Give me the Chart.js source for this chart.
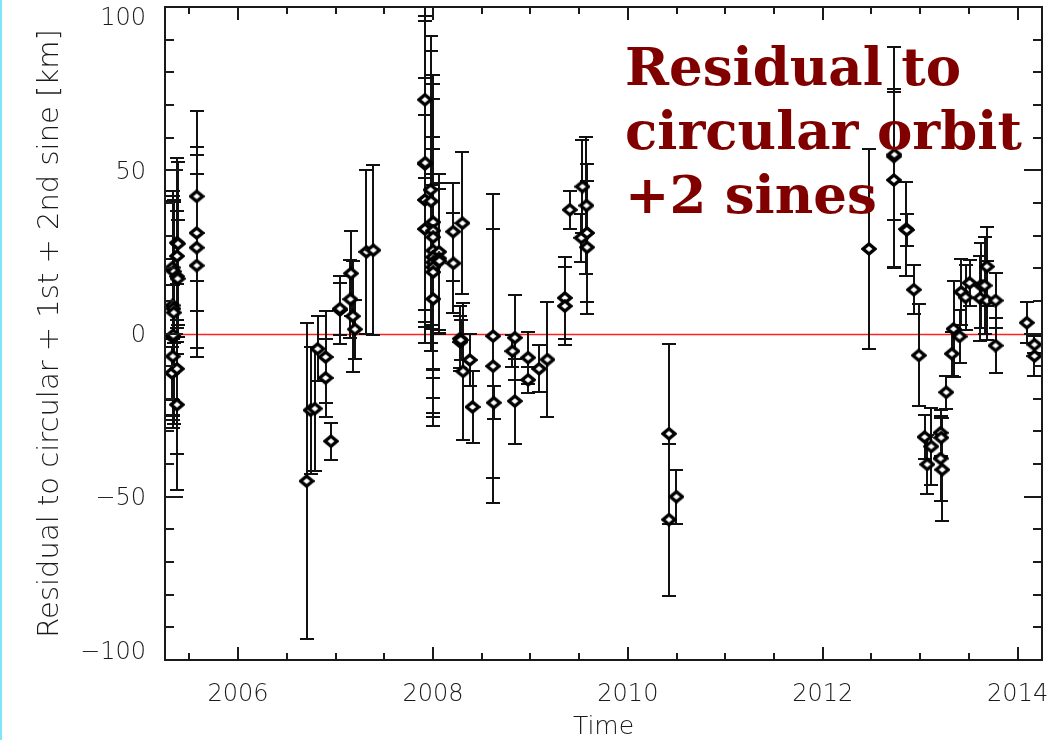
<!DOCTYPE html>
<html>
<head>
<meta charset="utf-8">
<script src="https://cdn.jsdelivr.net/npm/chart.js@4.4.1/dist/chart.umd.min.js"></script>
<style>
  html, body { margin: 0; padding: 0; background: #fff; }
  #wrap { position: relative; width: 1049px; height: 740px; overflow: hidden; background: #fff; }
  #edge { position: absolute; left: 0; top: 0; width: 2px; height: 740px; background: #7ee6f6; }
  canvas { position: absolute; left: 0; top: 0; }
  #note {
    position: absolute; left: 625px; top: 34px;
    font-family: "DejaVu Serif", serif; font-weight: bold;
    font-size: 53px; line-height: 64px; color: #800000; white-space: pre;
  }
</style>
</head>
<body>
<div id="wrap">
  <canvas id="c" width="1049" height="740"></canvas>
  <div id="edge"></div>
  <div id="note">Residual to
circular orbit
+2 sines</div>
</div>
<script>
// Observation epochs (decimal year)
const obsYear = [
  2005.327, 2005.340, 2005.327, 2005.335, 2005.340, 2005.327, 2005.335, 2005.330, 2005.322,
  2005.373, 2005.383, 2005.373, 2005.373, 2005.380, 2005.373, 2005.373,
  2005.575, 2005.575, 2005.575, 2005.575,
  2006.703, 2006.744, 2006.788, 2006.816, 2006.898, 2006.898, 2006.953, 2007.045, 2007.045,
  2007.158, 2007.153, 2007.178, 2007.199, 2007.317, 2007.388,
  2007.917, 2007.917, 2007.920, 2007.917, 2007.917,
  2007.975, 2007.980,
  2008.002, 2008.002, 2008.002, 2008.002, 2008.002, 2008.002, 2008.002, 2008.002, 2008.002,
  2008.063, 2008.063, 2008.066,
  2008.207, 2008.210, 2008.303,
  2008.276, 2008.280, 2008.284, 2008.309, 2008.378, 2008.406,
  2008.617, 2008.617, 2008.624,
  2008.840, 2008.816, 2008.840, 2008.976, 2008.976, 2009.089, 2009.175,
  2009.353, 2009.353, 2009.404, 2009.534, 2009.524, 2009.575, 2009.581, 2009.581,
  2010.422, 2010.422, 2010.498,
  2012.474, 2012.730, 2012.735, 2012.730, 2012.857, 2012.862, 2012.935, 2012.986,
  2013.045, 2013.072, 2013.114, 2013.209, 2013.216, 2013.209, 2013.226, 2013.267,
  2013.325, 2013.342, 2013.404, 2013.421, 2013.465, 2013.506,
  2013.616, 2013.626, 2013.660, 2013.684, 2013.684, 2013.773, 2013.773,
  2014.094, 2014.173, 2014.173
];

// Residual after removing circular orbit and two sine terms [km]
const obsResidual = [
  20.2, 19.0, 8.6, 7.6, 6.4, -1.1, -0.5, -7.0, -12.1,
  27.8, 27.5, 23.7, 17.5, 16.8, -10.8, -21.8,
  42.0, 30.8, 26.3, 20.8,
  -45.2, -23.5, -23.0, -4.7, -7.2, -13.6, -33.0, 7.2, 7.6,
  18.4, 10.5, 5.3, 1.3, 25.0, 25.5,
  71.6, 51.9, 52.3, 40.9, 32.0,
  44.0, 40.5,
  34.1, 31.5, 29.5, 25.4, 23.4, 21.8, 20.3, 18.8, 10.6,
  25.0, 23.0, 22.2,
  31.2, 21.5, 33.8,
  -1.6, -2.6, -2.0, -11.6, -8.1, -22.5,
  -0.8, -10.0, -21.2,
  -1.3, -5.4, -20.7, -7.4, -14.2, -10.8, -8.0,
  10.9, 8.4, 37.9, 45.0, 29.3, 39.2, 30.8, 26.4,
  -30.7, -57.0, -50.0,
  25.9, 54.2, 54.8, 47.0, 32.0, 31.7, 13.4, -6.7,
  -31.7, -40.1, -34.6, -30.4, -31.9, -38.3, -41.7, -18.0,
  -6.2, 1.4, -0.9, 12.7, 11.1, 15.5,
  10.8, 14.7, 14.7, 20.5, 10.1, 10.1, -3.7,
  3.3, -3.4, -6.9
];

// One-sigma uncertainty of each residual [km]
const obsError = [
  22, 22, 35, 33, 34, 24, 20, 22, 8,
  26, 25, 30, 20, 18, 26, 26,
  26, 24, 30.7, 28,
  48.3, 19.5, 19, 10, 14, 12, 5.6, 10.4, 8,
  13, 12, 17, 9, 25, 26,
  24, 50, 45, 37.5, 35,
  47, 46,
  45, 45, 27, 51, 22, 50, 40, 30, 35,
  24, 23, 22,
  15, 15.3, 21.8,
  10, 8, 6, 21, 8, 11,
  43.6, 42, 5,
  13, 5, 13, 8, 4, 7.2, 17.6,
  12.5, 12, 5.8, 14.3, 7.3, 20.9, 21, 20.4,
  27.6, 23.3, 8.3,
  30.5, 33.7, 20, 27, 14.5, 5, 7.5, 15.6,
  6.6, 9, 11.8, 7, 6, 13, 15.8, 5,
  6.7, 14.8, 8.2, 10, 10, 7,
  13, 13, 15, 12, 12, 8.4, 8.4,
  6.3, 2.5, 6
];

// Axis ranges and labelled ticks
const yearRange = [2005.25, 2014.25];
const residualRange = [-100, 100];
const xTickYears = [2006, 2008, 2010, 2012, 2014];
const yTickValues = [-100, -50, 0, 50, 100];

const points = obsYear.map((t, i) => ({ x: t, y: obsResidual[i] }));

// Slightly flattened open diamond used as the point symbol
function diamondSymbol() {
  const c = document.createElement('canvas');
  c.width = 16; c.height = 14;
  const g = c.getContext('2d');
  g.beginPath();
  g.moveTo(8, 2); g.lineTo(14, 7); g.lineTo(8, 12); g.lineTo(2, 7); g.closePath();
  g.fillStyle = '#fff';
  g.fill();
  g.lineWidth = 3.4;
  g.lineJoin = 'miter';
  g.strokeStyle = '#000';
  g.stroke();
  return c;
}

// Zero line, error bars and the boxed axes with inward ticks
const framePlugin = {
  id: 'frame',
  beforeDatasetsDraw(chart) {
    const { ctx, chartArea: a, scales: { x, y } } = chart;
    ctx.save();
    ctx.beginPath();
    ctx.rect(a.left, a.top, a.right - a.left, a.bottom - a.top);
    ctx.clip();

    const y0 = Math.round(y.getPixelForValue(0)) + 0.5;
    ctx.strokeStyle = '#ff2020';
    ctx.lineWidth = 1.5;
    ctx.beginPath();
    ctx.moveTo(a.left, y0);
    ctx.lineTo(a.right, y0);
    ctx.stroke();

    ctx.strokeStyle = '#111';
    ctx.lineWidth = 2;
    ctx.beginPath();
    for (let i = 0; i < obsYear.length; i++) {
      const px = Math.round(x.getPixelForValue(obsYear[i]));
      const hi = Math.round(y.getPixelForValue(obsResidual[i] + obsError[i]));
      const lo = Math.round(y.getPixelForValue(obsResidual[i] - obsError[i]));
      ctx.moveTo(px, hi); ctx.lineTo(px, lo);
      ctx.moveTo(px - 7, hi); ctx.lineTo(px + 7, hi);
      ctx.moveTo(px - 7, lo); ctx.lineTo(px + 7, lo);
    }
    ctx.stroke();
    ctx.restore();
  },
  afterDraw(chart) {
    const { ctx, chartArea: a, scales: { x, y } } = chart;
    ctx.save();
    ctx.strokeStyle = '#1a1a1a';
    ctx.lineWidth = 2;
    ctx.strokeRect(a.left, a.top, a.right - a.left, a.bottom - a.top);

    ctx.beginPath();
    // y ticks: major every 50, minor every 10
    for (let v = residualRange[0]; v <= residualRange[1]; v += 10) {
      const py = Math.round(y.getPixelForValue(v));
      const len = v % 50 === 0 ? 18 : 9;
      ctx.moveTo(a.left, py); ctx.lineTo(a.left + len, py);
      ctx.moveTo(a.right, py); ctx.lineTo(a.right - len, py);
    }
    // x ticks: major every 2 years, minor every half year
    for (let t = 2005.5; t <= yearRange[1]; t += 0.5) {
      const px = Math.round(x.getPixelForValue(t));
      const len = (Math.abs(t % 2) < 1e-6) ? 13 : 7;
      ctx.moveTo(px, a.bottom); ctx.lineTo(px, a.bottom - len);
      ctx.moveTo(px, a.top); ctx.lineTo(px, a.top + len);
    }
    ctx.stroke();
    ctx.restore();
  }
};

const fmtResidual = v => (v < 0 ? '\u2212' + Math.abs(v) : String(v));

new Chart(document.getElementById('c'), {
  type: 'scatter',
  data: {
    datasets: [{
      data: points,
      pointStyle: diamondSymbol(),
      pointRadius: 6,
      pointHoverRadius: 6
    }]
  },
  options: {
    responsive: false,
    animation: false,
    devicePixelRatio: 1,
    layout: { padding: { top: 6, right: 6, left: 0, bottom: 0 } },
    plugins: { legend: { display: false }, tooltip: { enabled: false } },
    scales: {
      x: {
        type: 'linear',
        min: yearRange[0],
        max: yearRange[1],
        grid: { display: false },
        border: { display: false },
        afterBuildTicks: s => { s.ticks = xTickYears.map(v => ({ value: v })); },
        afterFit: s => { s.height = 80; s.paddingLeft = 0; s.paddingRight = 0; },
        ticks: {
          font: { family: 'DejaVu Sans', size: 24, weight: 300 }, color: '#1a1a1a', padding: 12,
          maxRotation: 0, autoSkip: false, callback: v => String(v)
        },
        title: {
          display: true, text: 'Time', color: '#1a1a1a',
          font: { family: 'DejaVu Sans', size: 25, weight: 300, lineHeight: 1.0 },
          padding: { top: 0, bottom: 0 }
        }
      },
      y: {
        min: residualRange[0],
        max: residualRange[1],
        grid: { display: false },
        border: { display: false },
        afterBuildTicks: s => { s.ticks = yTickValues.map(v => ({ value: v })); },
        afterFit: s => { s.width = 165; s.paddingTop = 0; s.paddingBottom = 0; },
        ticks: {
          font: { family: 'DejaVu Sans', size: 24, weight: 300, lineHeight: 0.8 },
          color: '#1a1a1a', padding: 11, autoSkip: false, labelOffset: 2.5,
          // the end labels sit just inside the frame
          callback: v => v === residualRange[1] ? ['', fmtResidual(v)]
                       : v === residualRange[0] ? [fmtResidual(v), ''] : fmtResidual(v)
        },
        title: {
          display: true, text: 'Residual to circular + 1st + 2nd sine [km]', color: '#1a1a1a',
          font: { family: 'DejaVu Sans', size: 29, weight: 300 }, padding: { top: 33, bottom: 0 }
        }
      }
    }
  },
  plugins: [framePlugin]
});
</script>
</body>
</html>
